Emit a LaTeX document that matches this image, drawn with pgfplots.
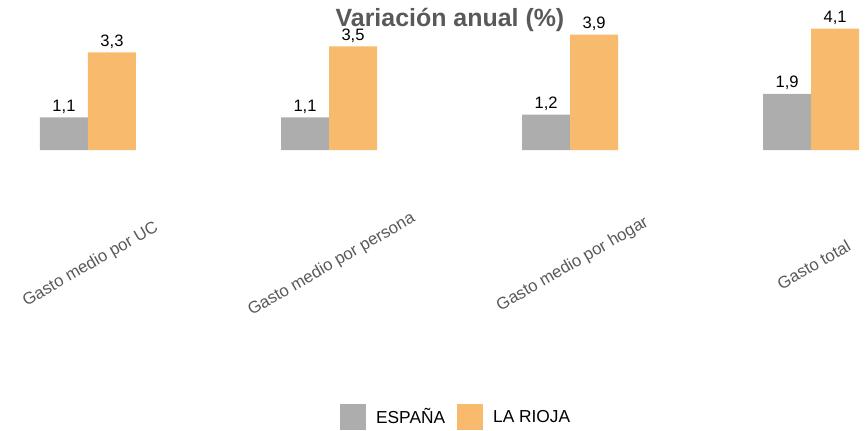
\documentclass[border=0pt]{standalone}
\usepackage{pgfplots}
\pgfplotsset{compat=1.18}
\usepackage{fontspec}
\setmainfont{Liberation Sans}
\definecolor{cgray}{HTML}{ADADAD}
\definecolor{corange}{HTML}{F8BA6C}
\definecolor{ctext}{HTML}{595959}
\begin{document}
\begin{tikzpicture}
\begin{axis}[
  at={(0pt,0pt)}, anchor=north west,
  scale only axis,
  width=650.25pt, height=112.5pt,
  xmin=-0.365, xmax=3.232,
  ymin=0, ymax=5.07,
  ybar=0pt, bar width=36pt,
  axis line style={draw=none},
  ytick=\empty,
  xtick={0,1,2,3},
  xticklabels={Gasto medio por UC, Gasto medio por persona, Gasto medio por hogar, Gasto total},
  major tick length=0pt,
  xticklabel style={yshift=-86pt, xshift=2pt, rotate=30, anchor=center, font=\fontsize{12.6pt}{14pt}\selectfont, text=ctext},
  clip=false,
  nodes near coords,
  nodes near coords style={anchor=base, yshift=4.5pt, inner sep=0pt, font=\fontsize{12.4pt}{14pt}\selectfont, text=black},
  /pgf/number format/.cd, use comma, fixed, fixed zerofill, precision=1, assume math mode=true,
  /pgfplots/.cd,
  legend columns=2,
  legend style={at={(0.525,-1.78)}, anchor=center, draw=none, fill=none,
    font=\fontsize{13pt}{15pt}\selectfont,
    column sep=7.5pt,
    /tikz/every even column/.append style={column sep=9pt},
    nodes={inner sep=0pt}},
]
\addplot[fill=cgray, draw=none, legend image code/.code={\fill[cgray] (0pt,-9.75pt) rectangle (19.5pt,9.75pt);}]
  coordinates {(0,1.1) (1,1.1) (2,1.2) (3,1.9)};
\addplot[fill=corange, draw=none, legend image code/.code={\fill[corange] (0pt,-9.75pt) rectangle (19.5pt,9.75pt);}]
  coordinates {(0,3.3) (1,3.5) (2,3.9) (3,4.1)};
\legend{ESPAÑA, LA RIOJA}
\node[font=\bfseries\fontsize{18.7pt}{21pt}\selectfont, text=ctext, anchor=center] at (rel axis cs:0.519,0.867) {Variación anual (\%)};
\end{axis}
\pgfresetboundingbox
\path[use as bounding box] (0pt,0pt) rectangle (650.25pt,-322.5pt);
\end{tikzpicture}
\end{document}
